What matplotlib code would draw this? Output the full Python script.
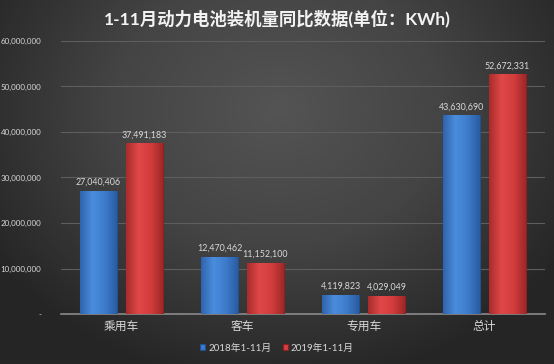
import numpy as np
import matplotlib
matplotlib.use('Agg')
import matplotlib.pyplot as plt
from matplotlib.colors import LinearSegmentedColormap

plt.rcParams['font.family'] = ['Lato', 'Noto Sans CJK SC', 'DejaVu Sans']

# 数据
categories = ['乘用车', '客车', '专用车', '总计']
series_names = ['2018年1-11月', '2019年1-11月']
values_2018 = [27040406, 12470462, 4119823, 43630690]
values_2019 = [37491183, 11152100, 4029049, 52672331]
yticks = [0, 10000000, 20000000, 30000000, 40000000, 50000000, 60000000]

W, H = 554, 364
fig = plt.figure(figsize=(W / 100, H / 100), dpi=100)

# 背景: 径向渐变
bg = fig.add_axes([0, 0, 1, 1])
yy, xx = np.mgrid[0:H, 0:W]
r = np.sqrt(((xx - W * 0.5) / (W * 0.6)) ** 2 + ((yy - H * 0.3) / (H * 0.75)) ** 2)
bg_cmap = LinearSegmentedColormap.from_list('bg', ['#545454', '#444444', '#262626'])
bg.imshow(np.clip(r, 0, 1), cmap=bg_cmap, vmin=0, vmax=1, aspect='auto')
bg.axis('off')

ax = fig.add_axes([61 / W, 1 - 314 / H, 484 / W, 273 / H])
ax.set_facecolor('none')

x = np.arange(len(categories))
width = 0.3
off = 0.19

blue_cmap = LinearSegmentedColormap.from_list('b', ['#2f64ad', '#4a8ddc', '#3d7ccc', '#2a5da3'])
red_cmap = LinearSegmentedColormap.from_list('r', ['#a92c2c', '#e04848', '#d43d3d', '#9f2828'])

bars1 = ax.bar(x - off, values_2018, width, color='#3b7bcb', edgecolor='#23508c', linewidth=0.8,
               label=series_names[0], zorder=3)
bars2 = ax.bar(x + off, values_2019, width, color='#d43f3f', edgecolor='#8c2020', linewidth=0.8,
               label=series_names[1], zorder=3)

# 柱子渐变填充
grad = np.linspace(0, 1, 64).reshape(1, -1)
for bars, cm in [(bars1, blue_cmap), (bars2, red_cmap)]:
    for b in bars:
        x0, y0 = b.get_x(), b.get_y()
        im = ax.imshow(grad, cmap=cm, aspect='auto', extent=[x0, x0 + b.get_width(), y0, y0 + b.get_height()],
                       zorder=3.5)
        im.set_clip_path(b)

for bars in (bars1, bars2):
    for b in bars:
        ax.text(b.get_x() + b.get_width() / 2, b.get_height() + 900000, f'{int(b.get_height()):,}',
                ha='center', va='bottom', fontsize=6.4, color='#d9d9d9', zorder=5)

ax.set_xlim(-0.5, 3.5)
ax.set_ylim(0, 60000000)
ax.set_yticks(yticks)
ax.set_yticklabels(['-' if v == 0 else f'{v:,}' for v in yticks], fontsize=5.8, color='#d9d9d9')
ax.set_xticks(x)
ax.set_xticklabels(categories, fontsize=8.5, color='#d9d9d9')
ax.tick_params(length=0, pad=5)
ax.tick_params(axis='y', pad=14)
ax.grid(axis='y', color='#5e5e5e', linewidth=0.8, zorder=0)
for s in ['top', 'right', 'left']:
    ax.spines[s].set_visible(False)
ax.spines['bottom'].set_color('#8a8a8a')
ax.spines['bottom'].set_linewidth(1.2)

fig.text(0.5, 1 - 18 / H, '1-11月动力电池装机量同比数据(单位：KWh)', ha='center', va='center',
         fontsize=12.5, fontweight='bold', color='#f2f2f2')

leg = fig.legend(handles=[bars1, bars2], labels=series_names, loc='center', bbox_to_anchor=(0.5, 1 - 348 / H),
                 ncol=2, frameon=False, fontsize=7, handlelength=0.5, handleheight=0.5, handletextpad=0.3,
                 columnspacing=1.2)
for t in leg.get_texts():
    t.set_color('#d9d9d9')

fig.savefig('out.png', dpi=100)
